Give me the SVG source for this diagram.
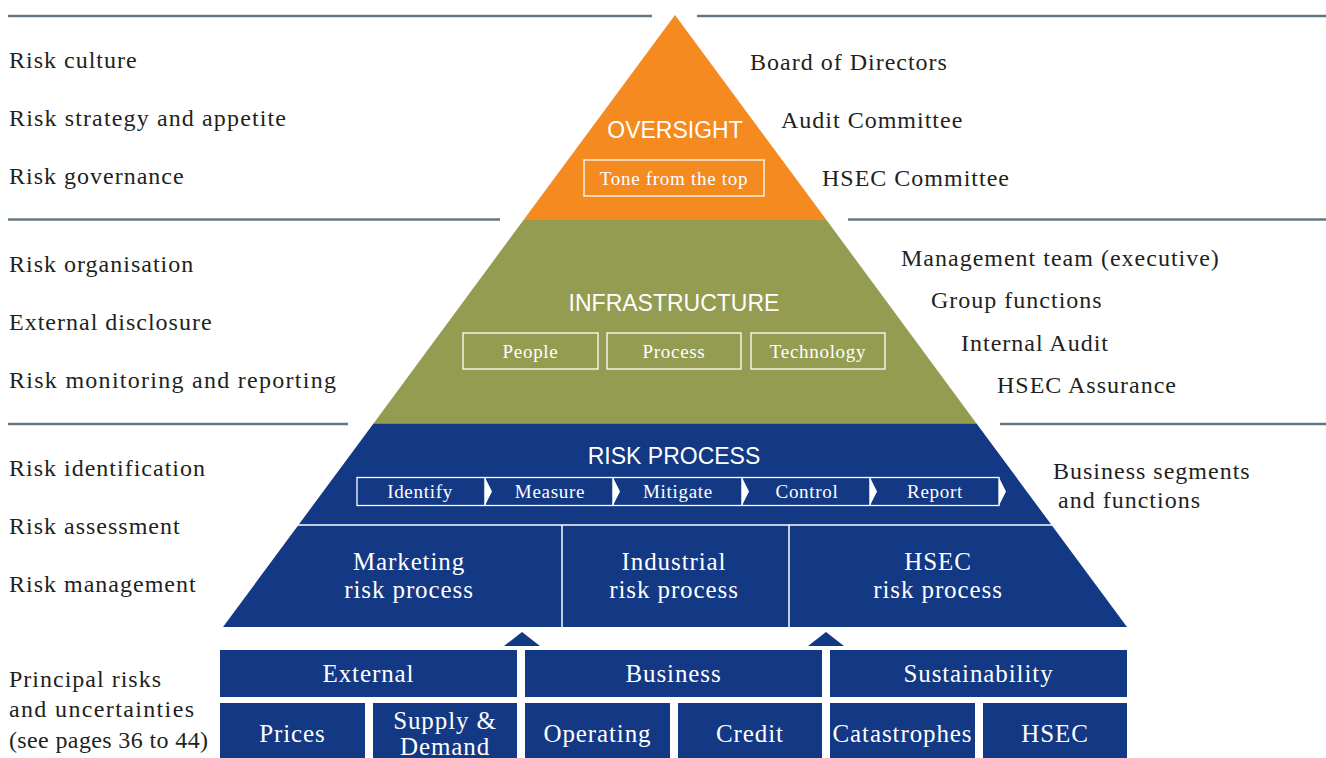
<svg xmlns="http://www.w3.org/2000/svg" width="1326" height="758" viewBox="0 0 1326 758">
<style>
.bg{fill:#ffffff}
.sep{stroke:#647783;stroke-width:2.5;fill:none}
.lbl{font-family:"Liberation Serif",serif;font-size:24px;fill:#231f20;letter-spacing:1px}
.head{font-family:"Liberation Sans",Arial,sans-serif;font-size:23px;fill:#ffffff}
.sm{font-family:"Liberation Serif",serif;font-size:19px;fill:#ffffff;letter-spacing:0.7px}
.wt{font-family:"Liberation Serif",serif;font-size:25px;fill:#ffffff;letter-spacing:0.9px}
.box{fill:none;stroke:#ffffff;stroke-width:1.3}
.blue{fill:#133884}
.orange{fill:#f58a21}
.green{fill:#949c51}
.wl{stroke:#ffffff;stroke-width:1.5;fill:none}
</style>
<rect class="bg" x="0" y="0" width="1326" height="758"/>
<g id="separators">
<line class="sep" x1="8" y1="16" x2="652" y2="16"/>
<line class="sep" x1="697" y1="16" x2="1326" y2="16"/>
<line class="sep" x1="8" y1="219.5" x2="500" y2="219.5"/>
<line class="sep" x1="848" y1="219.5" x2="1326" y2="219.5"/>
<line class="sep" x1="8" y1="424" x2="348" y2="424"/>
<line class="sep" x1="1000" y1="424" x2="1326" y2="424"/>
</g>
<g id="left-labels">
<text class="lbl" x="9" y="68">Risk culture</text>
<text class="lbl" x="9" y="126" textLength="278">Risk strategy and appetite</text>
<text class="lbl" x="9" y="184">Risk governance</text>
<text class="lbl" x="9" y="272">Risk organisation</text>
<text class="lbl" x="9" y="330">External disclosure</text>
<text class="lbl" x="9" y="388" textLength="328">Risk monitoring and reporting</text>
<text class="lbl" x="9" y="476">Risk identification</text>
<text class="lbl" x="9" y="534">Risk assessment</text>
<text class="lbl" x="9" y="592">Risk management</text>
<text class="lbl" x="9" y="687">Principal risks</text>
<text class="lbl" x="9" y="717" textLength="186">and uncertainties</text>
<text class="lbl" x="9" y="748" textLength="200">(see pages 36 to 44)</text>
</g>
<g id="right-labels">
<text class="lbl" x="750" y="70">Board of Directors</text>
<text class="lbl" x="781" y="128">Audit Committee</text>
<text class="lbl" x="822" y="186">HSEC Committee</text>
<text class="lbl" x="901" y="266">Management team (executive)</text>
<text class="lbl" x="931" y="308">Group functions</text>
<text class="lbl" x="961" y="351">Internal Audit</text>
<text class="lbl" x="997" y="393">HSEC Assurance</text>
<text class="lbl" x="1053" y="479">Business segments</text>
<text class="lbl" x="1058" y="508">and functions</text>
</g>
<g id="oversight">
<polygon class="orange" points="675,15 826.5,220 523.5,220"/>
<text class="head" x="675" y="138" text-anchor="middle">OVERSIGHT</text>
<rect class="box" x="584" y="160" width="180" height="36"/>
<text class="sm" x="674" y="185" text-anchor="middle">Tone from the top</text>
</g>
<g id="infrastructure">
<polygon class="green" points="523.5,220 826.5,220 976.5,423.5 373.5,423.5"/>
<text class="head" x="674" y="311" text-anchor="middle">INFRASTRUCTURE</text>
<rect class="box" x="463" y="333" width="135" height="36"/>
<text class="sm" x="530.5" y="358" text-anchor="middle">People</text>
<rect class="box" x="607" y="333" width="134" height="36"/>
<text class="sm" x="674" y="358" text-anchor="middle">Process</text>
<rect class="box" x="751" y="333" width="134" height="36"/>
<text class="sm" x="818" y="358" text-anchor="middle">Technology</text>
</g>
<g id="risk-process">
<polygon class="blue" points="373.5,423.5 976.5,423.5 1127,627 223,627"/>
<text class="head" x="674" y="464" text-anchor="middle">RISK PROCESS</text>
<rect class="box" x="357" y="477.5" width="642" height="28"/>
<g fill="#ffffff">
<polygon points="485,477.5 492,491.5 485,505.5"/>
<polygon points="613,477.5 620,491.5 613,505.5"/>
<polygon points="742,477.5 749,491.5 742,505.5"/>
<polygon points="870,477.5 877,491.5 870,505.5"/>
<polygon points="999,477.5 1006,491.5 999,505.5"/>
</g>
<line class="wl" x1="485" y1="477.5" x2="485" y2="505.5"/>
<line class="wl" x1="613" y1="477.5" x2="613" y2="505.5"/>
<line class="wl" x1="742" y1="477.5" x2="742" y2="505.5"/>
<line class="wl" x1="870" y1="477.5" x2="870" y2="505.5"/>
<text class="sm" x="420" y="498" text-anchor="middle">Identify</text>
<text class="sm" x="550" y="498" text-anchor="middle">Measure</text>
<text class="sm" x="678" y="498" text-anchor="middle">Mitigate</text>
<text class="sm" x="807" y="498" text-anchor="middle">Control</text>
<text class="sm" x="935" y="498" text-anchor="middle">Report</text>
<line class="wl" x1="297" y1="525" x2="1053" y2="525"/>
<line class="wl" x1="562" y1="525" x2="562" y2="627"/>
<line class="wl" x1="789" y1="525" x2="789" y2="627"/>
<text class="wt" x="409" y="570" text-anchor="middle">Marketing</text>
<text class="wt" x="409" y="598" text-anchor="middle">risk process</text>
<text class="wt" x="674" y="570" text-anchor="middle">Industrial</text>
<text class="wt" x="674" y="598" text-anchor="middle">risk process</text>
<text class="wt" x="938" y="570" text-anchor="middle">HSEC</text>
<text class="wt" x="938" y="598" text-anchor="middle">risk process</text>
</g>
<g id="connectors">
<polygon class="blue" points="504,646 522,632 540,646"/>
<polygon class="blue" points="808,646 826,632 844,646"/>
</g>
<g id="external">
<rect class="blue" x="220" y="650" width="297" height="47"/>
<text class="wt" x="368.5" y="682" text-anchor="middle">External</text>
<rect class="blue" x="220" y="703" width="145" height="55"/>
<text class="wt" x="292.5" y="742" text-anchor="middle">Prices</text>
<rect class="blue" x="373" y="703" width="144" height="55"/>
<text class="wt" x="445" y="729" text-anchor="middle">Supply &amp;</text>
<text class="wt" x="445" y="755" text-anchor="middle">Demand</text>
</g>
<g id="business">
<rect class="blue" x="525" y="650" width="297" height="47"/>
<text class="wt" x="673.5" y="682" text-anchor="middle">Business</text>
<rect class="blue" x="525" y="703" width="145" height="55"/>
<text class="wt" x="597.5" y="742" text-anchor="middle">Operating</text>
<rect class="blue" x="678" y="703" width="144" height="55"/>
<text class="wt" x="750" y="742" text-anchor="middle">Credit</text>
</g>
<g id="sustainability">
<rect class="blue" x="830" y="650" width="297" height="47"/>
<text class="wt" x="978.5" y="682" text-anchor="middle">Sustainability</text>
<rect class="blue" x="830" y="703" width="145" height="55"/>
<text class="wt" x="902.5" y="742" text-anchor="middle">Catastrophes</text>
<rect class="blue" x="983" y="703" width="144" height="55"/>
<text class="wt" x="1055" y="742" text-anchor="middle">HSEC</text>
</g>
</svg>
